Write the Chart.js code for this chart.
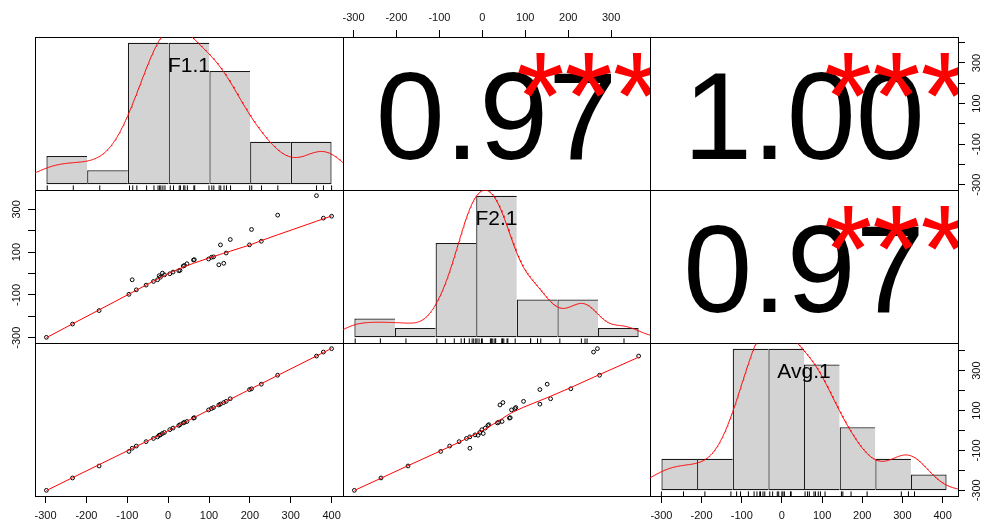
<!DOCTYPE html>
<html>
<head>
<meta charset="utf-8">
<script src="https://cdn.jsdelivr.net/npm/chart.js@4.4.1/dist/chart.umd.min.js"></script>
<style>
html,body{margin:0;padding:0;background:#fff;width:981px;height:524px;overflow:hidden;position:relative}
canvas{position:absolute;display:block}
</style>
</head>
<body>
<script>
// ---------------- data ----------------
const varLabels = ['F1.1', 'F2.1', 'Avg.1'];
const F1  = [-298,-234,-169,-96,-88,-78,-54,-36,-26,-22,-19,-14,-9,4,12,26,29,37,40,46,62,64,99,106,111,124,128,136,142,152,199,204,228,268,363,380,400];
const F2  = [-298,-236,-173,-97,-29,-76,-54,-37,-29,-10,-17,2,-6,-1,7,13,15,35,38,46,63,65,68,76,78,41,134,48,96,159,134,206,151,273,364,259,268];
const Avg = [-300,-238,-178,-105,-89,-78,-56,-40,-32,-24,-22,-15,-10,4,12,25,29,38,41,45,62,64,103,110,115,128,132,140,146,159,205,209,232,277,373,393,410];
const corrText  = ['0.97', '1.00', '0.97'];   // (F1,F2), (F1,Avg), (F2,Avg)
const corrStars = ['***', '***', '***'];
const histBreaksF1  = [-300,-200,-100,0,100,200,300,400];
const histBreaksF2  = [-300,-200,-100,0,100,200,300,400];
const histBreaksAvg = [-300,-200,-100,0,100,200,300,400,500];
const axisTickValues = [-300,-200,-100,0,100,200,300,400];
const xAxisLabelled  = [-300,-200,-100,0,100,200,300,400];
const yAxisLabelled  = [-300,-100,100,300];

const vars = [F1, F2, Avg];
const breaks = [histBreaksF1, histBreaksF2, histBreaksAvg];

// ---------------- layout ----------------
const COLS = [35, 343, 650, 958];
const ROWS = [37, 190, 343, 496];
const M = 40, AX = 30;
const FONT = "'Liberation Sans', Arial, sans-serif";
Chart.defaults.font.family = FONT;
Chart.defaults.animation = false;

// ---------------- helpers ----------------
function dataRange(v) {
  const lo = Math.min(...v), hi = Math.max(...v), d = hi - lo;
  return [lo - 0.04 * d, hi + 0.04 * d];
}
function quantile(s, p) {
  const h = (s.length - 1) * p, lo = Math.floor(h);
  return lo + 1 < s.length ? s[lo] + (h - lo) * (s[lo + 1] - s[lo]) : s[lo];
}
function bwNrd0(x) {
  const n = x.length, mean = x.reduce((a, b) => a + b, 0) / n;
  const sd = Math.sqrt(x.reduce((a, b) => a + (b - mean) * (b - mean), 0) / (n - 1));
  const s = [...x].sort((a, b) => a - b);
  const iqr = quantile(s, 0.75) - quantile(s, 0.25);
  let lo = Math.min(sd, iqr / 1.34);
  if (!lo) lo = sd || 1;
  return 0.9 * lo * Math.pow(n, -0.2);
}
function kde(x) {
  const n = x.length, bw = bwNrd0(x);
  const lo = Math.min(...x) - 3 * bw, hi = Math.max(...x) + 3 * bw;
  const out = [];
  for (let i = 0; i < 512; i++) {
    const t = lo + (hi - lo) * i / 511;
    let s = 0;
    for (const v of x) { const z = (t - v) / bw; s += Math.exp(-0.5 * z * z); }
    out.push({ x: t, y: s / (n * bw * Math.sqrt(2 * Math.PI)) });
  }
  return out;
}
function histCounts(x, b) {
  const c = new Array(b.length - 1).fill(0);
  for (const v of x) {
    for (let i = 0; i < b.length - 1; i++) {
      if ((v > b[i] && v <= b[i + 1]) || (i === 0 && v === b[0])) { c[i]++; break; }
    }
  }
  return c;
}
function lowess(xIn, yIn, f, iter) {
  const n = xIn.length;
  const ord = xIn.map((_, i) => i).sort((a, b) => xIn[a] - xIn[b]);
  const x = ord.map(i => xIn[i]), y = ord.map(i => yIn[i]);
  const ys = new Array(n).fill(0), rw = new Array(n).fill(1), res = new Array(n).fill(0), w = new Array(n).fill(0);
  const ns = Math.max(2, Math.min(n, Math.floor(f * n + 1e-7)));
  const delta = 0.01 * (x[n - 1] - x[0]);
  function lowest(xs, nleft, nright, userw) {
    const range = x[n - 1] - x[0];
    const h = Math.max(xs - x[nleft], x[nright] - xs);
    const h9 = 0.999 * h, h1 = 0.001 * h;
    let a = 0, j = nleft;
    while (j < n) {
      w[j] = 0;
      const r = Math.abs(x[j] - xs);
      if (r <= h9) {
        w[j] = r <= h1 ? 1 : Math.pow(1 - Math.pow(r / h, 3), 3);
        if (userw) w[j] *= rw[j];
        a += w[j];
      } else if (x[j] > xs) break;
      j++;
    }
    const nrt = j - 1;
    if (a <= 0) return null;
    for (j = nleft; j <= nrt; j++) w[j] /= a;
    if (h > 0) {
      a = 0;
      for (j = nleft; j <= nrt; j++) a += w[j] * x[j];
      let b = xs - a, c = 0;
      for (j = nleft; j <= nrt; j++) c += w[j] * (x[j] - a) * (x[j] - a);
      if (Math.sqrt(c) > 0.001 * range) {
        b /= c;
        for (j = nleft; j <= nrt; j++) w[j] *= (b * (x[j] - a) + 1);
      }
    }
    let s = 0;
    for (j = nleft; j <= nrt; j++) s += w[j] * y[j];
    return s;
  }
  for (let it = 1; it <= iter + 1; it++) {
    let nleft = 0, nright = ns - 1, last = -1, i = 0;
    for (;;) {
      if (nright < n - 1) {
        const d1 = x[i] - x[nleft], d2 = x[nright + 1] - x[i];
        if (d1 > d2) { nleft++; nright++; continue; }
      }
      const v = lowest(x[i], nleft, nright, it > 1);
      ys[i] = v === null ? y[i] : v;
      if (last < i - 1) {
        const denom = x[i] - x[last];
        for (let j = last + 1; j < i; j++) {
          const al = (x[j] - x[last]) / denom;
          ys[j] = al * ys[i] + (1 - al) * ys[last];
        }
      }
      last = i;
      const cut = x[last] + delta;
      for (i = last + 1; i < n; i++) {
        if (x[i] > cut) break;
        if (x[i] === x[last]) { ys[i] = ys[last]; last = i; }
      }
      i = Math.max(last + 1, i - 1);
      if (last >= n - 1) break;
    }
    for (let k = 0; k < n; k++) res[k] = y[k] - ys[k];
    if (it > iter) break;
    let sc = 0;
    for (let k = 0; k < n; k++) sc += Math.abs(res[k]);
    sc /= n;
    const ar = res.map(Math.abs).sort((a, b) => a - b);
    const m1 = Math.floor(n / 2);
    const cmad = n % 2 === 0 ? 3 * (ar[m1 - 1] + ar[m1]) : 6 * ar[m1];
    if (cmad < 1e-7 * sc) break;
    const c9 = 0.999 * cmad, c1 = 0.001 * cmad;
    for (let k = 0; k < n; k++) {
      const r = Math.abs(res[k]);
      rw[k] = r <= c1 ? 1 : r > c9 ? 0 : Math.pow(1 - Math.pow(r / cmad, 2), 2);
    }
  }
  return x.map((xv, k) => ({ x: xv, y: ys[k] }));
}

function hiddenScale(axis, min, max, extra) {
  return Object.assign({ type: 'linear', axis, display: false, min, max, offset: false,
    grid: { offset: false }, ticks: { includeBounds: false } }, extra || {});
}
function shownScale(axis, position, min, max, labelled) {
  const vertical = axis === 'y';
  let pad = 6;
  if (position === 'top') pad = 5;
  if (position === 'left') pad = 0;
  if (position === 'right') pad = 1;
  return {
    type: 'linear', axis, position, min, max, offset: false, display: true,
    grid: { display: true, drawOnChartArea: false, drawTicks: true, tickLength: 7, tickWidth: 1,
            tickColor: '#000', color: '#000', offset: false },
    border: { display: false },
    ticks: {
      autoSkip: false, includeBounds: false, color: '#111',
      font: { size: 11, family: FONT }, padding: pad,
      minRotation: vertical ? 90 : 0, maxRotation: vertical ? 90 : 0,
      crossAlign: vertical ? 'center' : 'near',
      callback: (v) => labelled.includes(v) ? String(v) : ''
    },
    afterBuildTicks: (s) => {
      s.ticks = axisTickValues.filter(v => v >= s.min && v <= s.max).map(v => ({ value: v }));
    },
    afterFit: (s) => { if (vertical) s.width = AX; else s.height = AX; }
  };
}

function makeCanvas(r, c) {
  const cv = document.createElement('canvas');
  const w = COLS[c + 1] - COLS[c] + 2 * M, h = ROWS[r + 1] - ROWS[r] + 2 * M;
  cv.width = w; cv.height = h;
  cv.style.left = (COLS[c] - M) + 'px';
  cv.style.top = (ROWS[r] - M) + 'px';
  cv.style.width = w + 'px';
  cv.style.height = h + 'px';
  document.body.appendChild(cv);
  return cv;
}

function decorPlugin(info) {
  return {
    id: 'decor',
    beforeDatasetsDraw(chart) {
      const a = chart.chartArea, ctx = chart.ctx;
      ctx.save();
      ctx.strokeStyle = '#000';
      ctx.lineWidth = 1;
      ctx.strokeRect(Math.round(a.left) + 0.5, Math.round(a.top) + 0.5,
                     Math.round(a.right - a.left), Math.round(a.bottom - a.top));
      ctx.restore();
    },
    afterDatasetsDraw(chart) {
      const a = chart.chartArea, ctx = chart.ctx;
      ctx.save();
      if (info.label) {
        const fs = 21;
        ctx.font = fs + 'px ' + FONT;
        ctx.fillStyle = '#000';
        ctx.textAlign = 'center';
        ctx.textBaseline = 'alphabetic';
        const yc = a.bottom - 0.8333 * (a.bottom - a.top);
        ctx.fillText(info.label, (a.left + a.right) / 2, yc + 1.7 + 0.358 * fs);
      }
      if (info.corr) {
        const xs = chart.scales.x, ys = chart.scales.y;
        const fs = 124;
        ctx.beginPath();
        ctx.rect(a.left, a.top, a.right - a.left, a.bottom - a.top);
        ctx.clip();
        ctx.font = fs + 'px ' + FONT;
        ctx.textAlign = 'center';
        ctx.textBaseline = 'alphabetic';
        ctx.fillStyle = '#000';
        ctx.fillText(info.corr, xs.getPixelForValue(0.5), ys.getPixelForValue(0.5) + 1.5 + 0.358 * fs);
        ctx.fillStyle = '#FF0000';
        ctx.fillText(info.stars, xs.getPixelForValue(0.8), ys.getPixelForValue(0.8) + 1.4 + 0.563 * fs);
      }
      ctx.restore();
    }
  };
}

function baseOptions(padding, scales) {
  return {
    responsive: false, animation: false, events: [],
    layout: { padding, autoPadding: false },
    plugins: { legend: { display: false }, tooltip: { enabled: false }, title: { display: false } },
    scales
  };
}

function padFor(sides) {
  return {
    left: sides.left ? M - AX : M, right: sides.right ? M - AX : M,
    top: sides.top ? M - AX : M, bottom: sides.bottom ? M - AX : M
  };
}

// ---------------- build panels ----------------
for (let r = 0; r < 3; r++) {
  for (let c = 0; c < 3; c++) {
    const cv = makeCanvas(r, c);
    const sides = {};
    const scales = {};
    let datasets = [];
    let info = {};

    if (r === c) {
      // histogram + density + rug
      const v = vars[r], b = breaks[r], n = v.length;
      const bw = b[1] - b[0];
      const counts = histCounts(v, b);
      const dens = counts.map(k => k / (n * bw));
      const maxD = Math.max(...dens);
      const span = b[b.length - 1] - b[0];
      const yMin = -0.04 * maxD, yMax = 1.04 * maxD;
      scales.x = hiddenScale('x', b[0] - 0.04 * span, b[b.length - 1] + 0.04 * span, {
        afterBuildTicks: (s) => { s.ticks = b.map(t => ({ value: t })); }
      });
      scales.y = hiddenScale('y', yMin, yMax);
      const nb = counts.length;
      datasets = [
        { type: 'line', xAxisID: 'x', yAxisID: 'y', data: kde(v), borderColor: '#FF0000', borderWidth: 1,
          pointRadius: 0, tension: 0, fill: false, clip: 0 },
        { type: 'bar', xAxisID: 'x', yAxisID: 'y',
          data: dens.map((d, i) => ({ x: (b[i] + b[i + 1]) / 2, y: d })),
          backgroundColor: '#D3D3D3', borderColor: '#1a1a1a',
          borderWidth: (ctx) => ({ top: 1.25, left: 1.25, bottom: 1.25, right: ctx.dataIndex === nb - 1 ? 1.25 : 0 }),
          borderSkipped: false, barPercentage: 1, categoryPercentage: 1, inflateAmount: 0, grouped: false },
        { type: 'scatter', xAxisID: 'x', yAxisID: 'y',
          data: v.map(val => ({ x: val, y: yMin + 0.015 * (yMax - yMin) })),
          pointStyle: 'line', pointRotation: 90, rotation: 90, pointRadius: 2.3, radius: 2.3,
          borderColor: '#000', pointBorderColor: '#000', pointBorderWidth: 1, borderWidth: 1 }
      ];
      info.label = varLabels[r];
      if (r === 2) {
        const xr = dataRange(vars[2]);
        scales.xa = shownScale('x', 'bottom', xr[0], xr[1], xAxisLabelled);
        scales.ya = shownScale('y', 'right', xr[0], xr[1], yAxisLabelled);
        sides.bottom = true; sides.right = true;
      }
    } else if (r > c) {
      // scatter + lowess
      const xv = vars[c], yv = vars[r];
      const xr = dataRange(xv), yr = dataRange(yv);
      const showX = (r === 2 && c === 0);
      const showY = (r === 1 && c === 0);
      scales.x = showX ? shownScale('x', 'bottom', xr[0], xr[1], xAxisLabelled) : hiddenScale('x', xr[0], xr[1]);
      scales.y = showY ? shownScale('y', 'left', yr[0], yr[1], yAxisLabelled) : hiddenScale('y', yr[0], yr[1]);
      if (showX) sides.bottom = true;
      if (showY) sides.left = true;
      datasets = [
        { type: 'line', xAxisID: 'x', yAxisID: 'y', data: lowess(xv, yv, 2 / 3, 3), borderColor: '#FF0000',
          borderWidth: 1, pointRadius: 0, tension: 0, fill: false, clip: 0 },
        { type: 'scatter', xAxisID: 'x', yAxisID: 'y', data: xv.map((x, i) => ({ x, y: yv[i] })),
          pointRadius: 1.9, pointBorderWidth: 1, borderColor: '#000', pointBorderColor: '#000',
          backgroundColor: 'rgba(0,0,0,0)', pointBackgroundColor: 'rgba(0,0,0,0)' }
      ];
    } else {
      // correlation text
      const idx = (r === 0 && c === 1) ? 0 : (r === 0 && c === 2) ? 1 : 2;
      scales.x = hiddenScale('x', 0, 1);
      scales.y = hiddenScale('y', 0, 1);
      if (r === 0 && c === 1) {
        const xr = dataRange(vars[1]);
        scales.xa = shownScale('x', 'top', xr[0], xr[1], xAxisLabelled);
        sides.top = true;
      }
      if (r === 0 && c === 2) {
        const yr = dataRange(vars[0]);
        scales.ya = shownScale('y', 'right', yr[0], yr[1], yAxisLabelled);
        sides.right = true;
      }
      info.corr = corrText[idx];
      info.stars = corrStars[idx];
    }

    new Chart(cv, {
      type: 'scatter',
      data: { datasets },
      options: baseOptions(padFor(sides), scales),
      plugins: [decorPlugin(info)]
    });
  }
}
</script>
</body>
</html>
